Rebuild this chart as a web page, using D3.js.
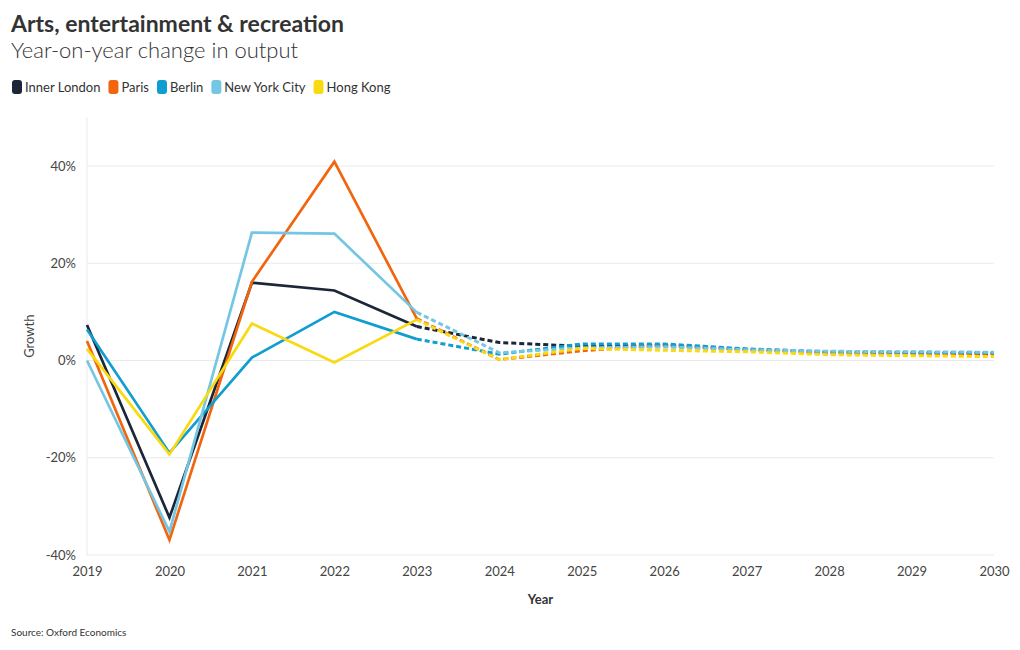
<!DOCTYPE html>
<html>
<head>
<meta charset="utf-8">
<script src="https://cdn.jsdelivr.net/npm/d3@7"></script>
<style>
  body { margin: 0; background: #fff; }
  svg { display: block; font-family: "Lato", "Open Sans", sans-serif; }
</style>
</head>
<body>
<svg id="chart" width="1020" height="650"></svg>
<script>
const years = [2019, 2020, 2021, 2022, 2023, 2024, 2025, 2026, 2027, 2028, 2029, 2030];
const lastActualYear = 2023;
const seriesNames = ["Inner London", "Paris", "Berlin", "New York City", "Hong Kong"];
const seriesColors = ["#1b2638", "#f0650e", "#109dd0", "#74c6e3", "#f9d90f"];
const innerLondon = [7.3, -32.3, 16.0, 14.4, 7.0, 3.7, 2.9, 3.1, 2.2, 1.6, 1.5, 1.4];
const paris       = [4.0, -36.9, 16.2, 40.9, 8.6, 0.2, 2.0, 3.2, 2.2, 1.6, 1.5, 1.4];
const berlin      = [6.4, -19.0, 0.6, 10.0, 4.4, 1.3, 3.4, 3.4, 2.4, 1.8, 1.7, 1.6];
const newYorkCity = [0.0, -35.2, 26.3, 26.1, 9.9, 1.6, 2.6, 2.8, 2.2, 1.9, 1.8, 1.7];
const hongKong    = [2.4, -19.3, 7.6, -0.4, 8.4, 0.2, 2.5, 2.1, 1.8, 1.2, 1.0, 0.8];
const seriesValues = [innerLondon, paris, berlin, newYorkCity, hongKong];
const yTicks = [-40, -20, 0, 20, 40];
const title = "Arts, entertainment & recreation";
const subtitle = "Year-on-year change in output";
const xTitle = "Year";
const yTitle = "Growth";
const source = "Source: Oxford Economics";

const svg = d3.select("#chart");
const x = d3.scaleLinear().domain([2019, 2030]).range([87, 994]);
const y = d3.scaleLinear().domain([-40, 50]).range([555, 117.4]);

svg.append("text").attr("x", 11).attr("y", 32).attr("font-size", 23).attr("font-weight", 700)
  .attr("fill", "#333").text(title);
svg.append("text").attr("x", 11).attr("y", 58).attr("font-size", 22).attr("font-weight", 300)
  .attr("fill", "#333").text(subtitle);

// legend
let lx = 12;
const legend = svg.append("g");
seriesNames.forEach((n, i) => {
  legend.append("rect").attr("x", lx).attr("y", 80).attr("width", 10).attr("height", 14)
    .attr("rx", 3).attr("fill", seriesColors[i]);
  const t = legend.append("text").attr("x", lx + 13).attr("y", 92).attr("font-size", 13)
    .attr("fill", "#333").text(n);
  lx += 13 + t.node().getComputedTextLength() + 8;
});

// gridlines
svg.append("g").selectAll("line").data(yTicks).join("line")
  .attr("x1", x(2019)).attr("x2", x(2030)).attr("y1", d => y(d)).attr("y2", d => y(d))
  .attr("stroke", "#eaeaea").attr("stroke-width", 1);
svg.append("line").attr("x1", x(2019)).attr("x2", x(2019)).attr("y1", y(50)).attr("y2", y(-40))
  .attr("stroke", "#eaeaea");

// y axis
const yAxis = svg.append("g").attr("transform", `translate(${x(2019)},0)`)
  .call(d3.axisLeft(y).tickValues(yTicks).tickFormat(d => d + "%").tickSize(0).tickPadding(11));
yAxis.select(".domain").remove();
yAxis.selectAll("text").attr("font-size", 13).attr("fill", "#444").attr("font-family", "Lato, sans-serif");

// x axis
const xAxis = svg.append("g").attr("transform", `translate(0,${y(-40)})`)
  .call(d3.axisBottom(x).tickValues(years).tickFormat(d3.format("d")).tickSize(0).tickPadding(12));
xAxis.select(".domain").remove();
xAxis.selectAll("text").attr("font-size", 13).attr("fill", "#444").attr("font-family", "Lato, sans-serif");

svg.append("text").attr("x", (x(2019) + x(2030)) / 2).attr("y", 604).attr("text-anchor", "middle")
  .attr("font-size", 13).attr("font-weight", 700).attr("fill", "#333").text(xTitle);
svg.append("text").attr("transform", `translate(34,${y(5)}) rotate(-90)`).attr("text-anchor", "middle")
  .attr("font-size", 13).attr("fill", "#444").text(yTitle);

svg.append("text").attr("x", 11).attr("y", 636).attr("font-size", 10).attr("fill", "#333").text(source);

// lines
const line = d3.line().x(d => x(d[0])).y(d => y(d[1]));
const g = svg.append("g");
seriesValues.forEach((vals, i) => {
  const pts = years.map((yr, j) => [yr, vals[j]]);
  g.append("path").attr("d", line(pts.filter(p => p[0] <= lastActualYear)))
    .attr("fill", "none").attr("stroke", seriesColors[i]).attr("stroke-width", 2.7)
    .attr("stroke-linejoin", "miter");
  g.append("path").attr("d", line(pts.filter(p => p[0] >= lastActualYear)))
    .attr("fill", "none").attr("stroke", seriesColors[i]).attr("stroke-width", 3)
    .attr("stroke-dasharray", "5,3");
});
</script>
</body>
</html>
